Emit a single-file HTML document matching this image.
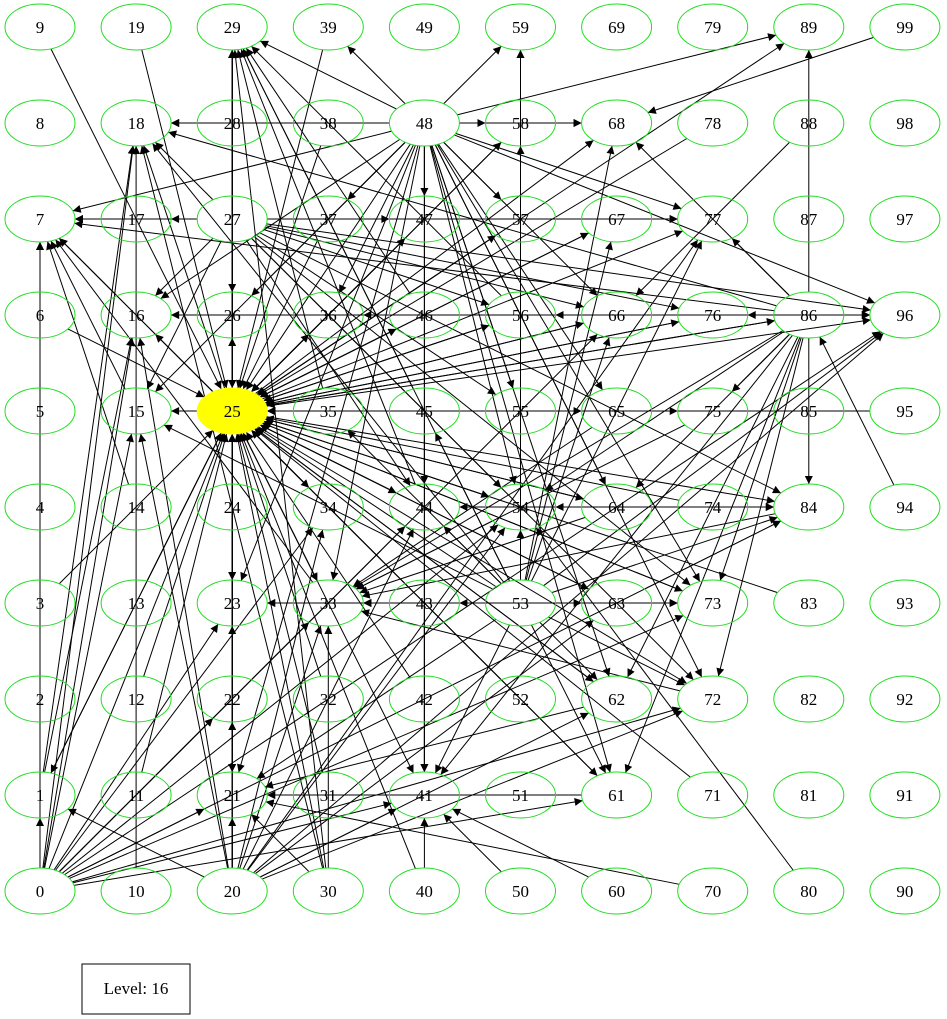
<!DOCTYPE html>
<html><head><meta charset="utf-8"><style>
html,body{margin:0;padding:0;background:#fff;}
svg{display:block;font-family:"Liberation Serif",serif;}
</style></head><body>
<svg id="g" width="947" height="1019" viewBox="0 0 947 1019">
<defs><marker id="ah" viewBox="0 0 10 10" refX="10" refY="5" markerWidth="10" markerHeight="8" markerUnits="userSpaceOnUse" orient="auto"><path d="M0,0L10,5L0,10z" fill="#000"/></marker></defs>
<g id="edges"></g>
<g id="nodes"></g>
<rect x="82" y="964" width="108" height="50" fill="#fff" stroke="#000"/>
<text x="136" y="994" font-size="17" text-anchor="middle">Level: 16</text>
</svg>
<script>
const nodeIds = Array.from({length:100},(_,i)=>i);
const highlighted = [25];
const edgeList = [
"48-29","48-39","48-59","48-18","48-58","48-68","48-89","48-7","48-47","48-57","48-77","48-96","48-25","48-15","48-16","48-26","48-36","48-37","48-44","48-54","48-55","48-64","48-65","48-66","48-73","48-72","48-61","48-62","48-41","48-33","48-23","48-21",
"27-7","27-17","27-18","27-29","27-26","27-25","27-15","27-16","27-47","27-56","27-66","27-76","27-77","27-96","27-84","27-73","27-72","27-54","27-55","27-44","27-21","27-23",
"25-7","25-16","25-18","25-29","25-58","25-68","25-77","25-96","25-86","25-84","25-75","25-66","25-57","25-47","25-1","25-21","25-23","25-33","25-41","25-61","25-62","25-72","25-73","25-63","25-54","25-44","25-34","25-15","25-26","25-36","25-46","25-56","25-67","25-76","25-65","25-64","25-89",
"86-96","86-89","86-77","86-68","86-76","86-75","86-84","86-73","86-72","86-62","86-61","86-54","86-64","86-25","86-36","86-56","86-7","86-18","86-41","86-33",
"53-59","53-58","53-68","53-67","53-63","53-73","53-72","53-62","53-61","53-44","53-33","53-23","53-41","53-25","53-15","53-35","53-45","53-54","53-84","53-77","53-96","53-66","53-21","53-18","53-29",
"0-1","0-7","0-15","0-16","0-18","0-21","0-22","0-23","0-25","0-33","0-34","0-41","0-61","0-72","0-73","0-44","0-54","0-66","0-96","0-84",
"20-1","20-21","20-22","20-23","20-25","20-29","20-33","20-34","20-41","20-62","20-63","20-72","20-15","20-16","20-54","20-44","20-96","20-77",
"30-33","30-25","30-29","30-21","30-18",
"9-25","19-25","39-25","99-68","95-25","94-86","88-66","80-54","70-21","60-41","50-41","40-25","10-18","3-25","2-7","6-25","71-25","14-7","16-7","17-7","26-25","36-25","45-25","55-25","65-25","75-25","85-25","24-25","34-25","44-25","64-25","74-25","1-25","12-25","21-25","22-25","31-25","32-25","35-25","37-25","38-25","42-25","46-25","52-25","56-25","57-25","66-25","76-25","47-25","58-25","67-25","63-25","73-25","62-25","61-25","83-25","78-25","28-25","11-25","13-25","23-25","33-25",
"38-18","28-18","58-68","47-77","17-7","36-16","46-16","56-96","66-96","76-96","64-84","74-84","43-33","43-23","63-73","63-84","41-21","40-41","53-43","45-29","46-29","44-29","35-29","56-29","24-29","22-29","23-29","21-29","33-7","34-7","15-7","1-18","1-16","54-59","44-41","45-41","54-33","64-33","65-33","75-33","84-33","74-44","74-54","73-33","72-33","62-21","61-21"
];
const edges = edgeList.map(s=>s.split('-').map(Number));
const NS='http://www.w3.org/2000/svg';
const RX=35, RY=23;
function px(n){return 40+Math.floor(n/10)*96.1;}
function py(n){return 891-(n%10)*96;}
const eg=document.getElementById('edges'), ng=document.getElementById('nodes');
nodeIds.forEach(n=>{
  const e=document.createElementNS(NS,'ellipse');
  e.setAttribute('cx',px(n));e.setAttribute('cy',py(n));
  e.setAttribute('rx',RX);e.setAttribute('ry',RY);
  e.setAttribute('fill',highlighted.includes(n)?'#ffff00':'none');
  e.setAttribute('stroke',highlighted.includes(n)?'#ffff00':'#22dd22');
  
  
  ng.appendChild(e);
});
edges.forEach(([a,b])=>{
  const x1=px(a),y1=py(a),x2=px(b),y2=py(b);
  const dx=x2-x1,dy=y2-y1;
  const s=1/Math.sqrt((dx/RX)**2+(dy/RY)**2);
  const l=document.createElementNS(NS,'line');
  l.setAttribute('x1',x1+dx*s);l.setAttribute('y1',y1+dy*s);
  l.setAttribute('x2',x2-dx*s);l.setAttribute('y2',y2-dy*s);
  l.setAttribute('stroke','#000');l.setAttribute('stroke-width','1');
  l.setAttribute('marker-end','url(#ah)');
  
  
  eg.appendChild(l);
});
nodeIds.forEach(n=>{
  const t=document.createElementNS(NS,'text');
  t.setAttribute('x',px(n));t.setAttribute('y',py(n)+6);
  t.setAttribute('font-size','17');t.setAttribute('text-anchor','middle');
  t.textContent=String(n);
  
  
  ng.appendChild(t);
});
</script>
</body></html>
